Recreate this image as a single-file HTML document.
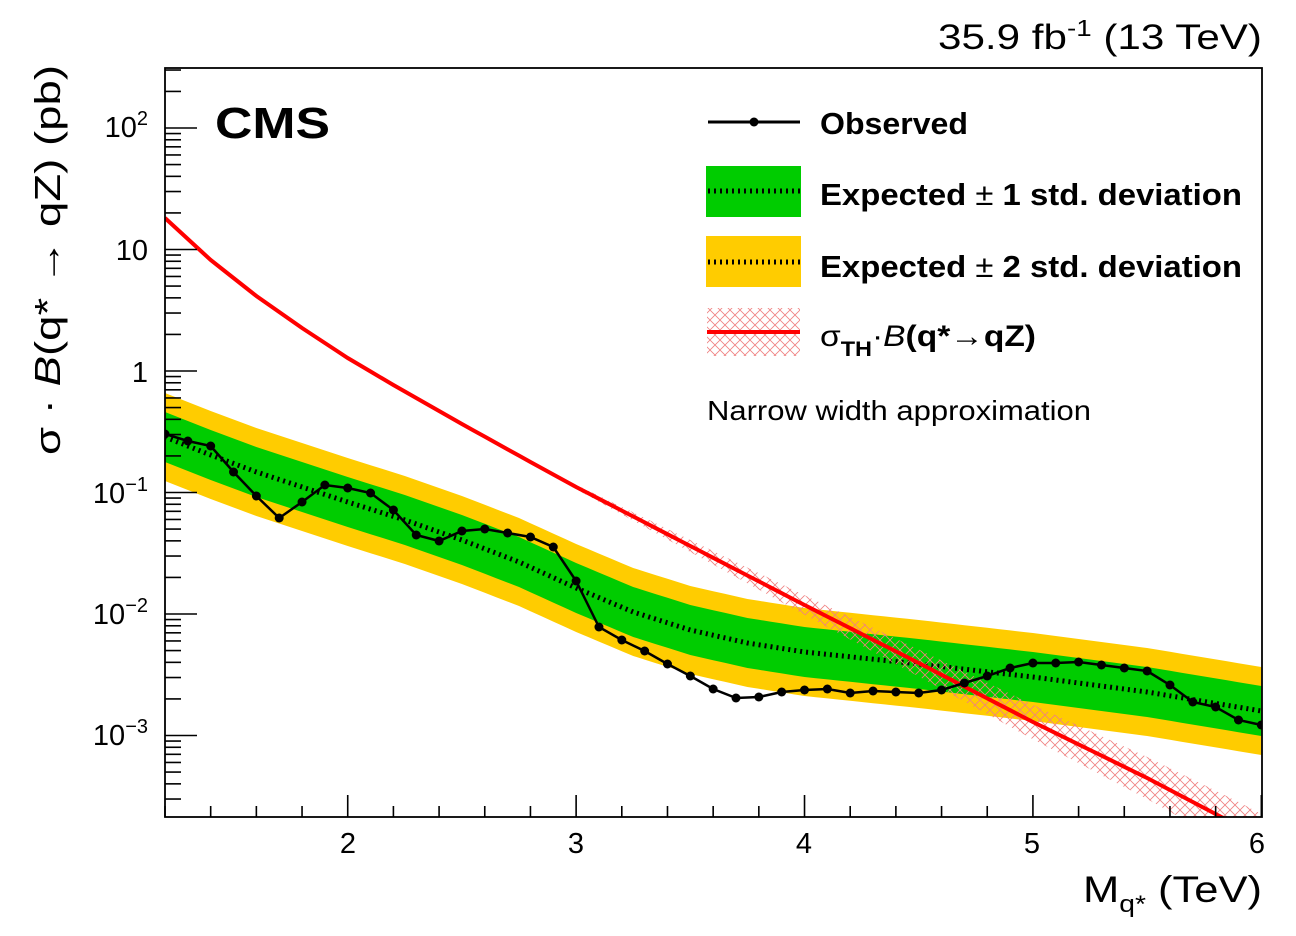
<!DOCTYPE html>
<html><head><meta charset="utf-8"><style>
html,body{margin:0;padding:0;background:#fff;}
svg text{font-family:"Liberation Sans",sans-serif;}
</style></head><body>
<svg id="s" width="1296" height="931" xmlns="http://www.w3.org/2000/svg">
<defs>
<pattern id="hx" width="10" height="10" patternUnits="userSpaceOnUse">
<path d="M0,0L10,10M10,0L0,10" stroke="#f08080" stroke-width="0.8" fill="none"/>
</pattern>
<clipPath id="cp"><rect x="165" y="68" width="1097" height="749"/></clipPath>
</defs>
<g id="plot" clip-path="url(#cp)"></g>
<rect x="165" y="68" width="1097" height="749" fill="none" stroke="#000" stroke-width="1.8"/>
<g id="ticks" stroke="#000" stroke-width="1.6"></g>
<g font-size="29" text-anchor="middle">
<text x="348" y="853">2</text><text x="576" y="853">3</text><text x="804" y="853">4</text><text x="1032" y="853">5</text><text x="1257" y="853">6</text>
</g>
<g font-size="29" text-anchor="end">
<text x="148" y="137">10<tspan dy="-12" font-size="20">2</tspan></text>
<text x="148" y="260">10</text>
<text x="148" y="382">1</text>
<text x="148" y="503">10<tspan dy="-12" font-size="20">−1</tspan></text>
<text x="148" y="624">10<tspan dy="-12" font-size="20">−2</tspan></text>
<text x="148" y="745">10<tspan dy="-12" font-size="20">−3</tspan></text>
</g>
<text x="938" y="49" font-size="35" textLength="324" lengthAdjust="spacingAndGlyphs">35.9 fb<tspan dy="-13" font-size="23">-1</tspan><tspan dy="13"> (13 TeV)</tspan></text>
<text x="1083" y="902" font-size="37" textLength="179" lengthAdjust="spacingAndGlyphs">M<tspan dy="10" font-size="24">q*</tspan><tspan dy="-10"> (TeV)</tspan></text>
<text transform="translate(60,455) rotate(-90)" font-size="36" textLength="390" lengthAdjust="spacingAndGlyphs">σ · <tspan font-style="italic">B</tspan>(q* → qZ) (pb)</text>
<text x="215" y="138" font-size="44" font-weight="bold" textLength="115" lengthAdjust="spacingAndGlyphs">CMS</text>
<g>
<line x1="708" y1="122" x2="800" y2="122" stroke="#000" stroke-width="3"/>
<circle cx="754" cy="122" r="4.5"/>
<text x="820" y="134" font-size="31" font-weight="bold" textLength="148" lengthAdjust="spacingAndGlyphs">Observed</text>
<rect x="706" y="166" width="95" height="51" fill="#00cc00"/>
<line x1="708" y1="191" x2="800" y2="191" stroke="#000" stroke-width="5" stroke-dasharray="2,4"/>
<text x="820" y="205" font-size="31" font-weight="bold" textLength="422" lengthAdjust="spacingAndGlyphs">Expected <tspan font-weight="normal">±</tspan> 1 std. deviation</text>
<rect x="706" y="236" width="95" height="51" fill="#ffcc00"/>
<line x1="708" y1="262" x2="800" y2="262" stroke="#000" stroke-width="5" stroke-dasharray="2,4"/>
<text x="820" y="277" font-size="31" font-weight="bold" textLength="422" lengthAdjust="spacingAndGlyphs">Expected <tspan font-weight="normal">±</tspan> 2 std. deviation</text>
<rect x="707" y="308" width="93" height="48" fill="url(#hx)"/>
<line x1="707" y1="332" x2="800" y2="332" stroke="#ff0000" stroke-width="4"/>
<text x="820" y="346" font-size="30" textLength="216" lengthAdjust="spacingAndGlyphs">σ<tspan dy="10" font-size="21" font-weight="bold">TH</tspan><tspan dy="-10">·</tspan><tspan font-style="italic">B</tspan><tspan font-weight="bold">(q*→qZ)</tspan></text>
<text x="707" y="420" font-size="28" textLength="384" lengthAdjust="spacingAndGlyphs">Narrow width approximation</text>
</g>
</svg>
<script>
const NS="http://www.w3.org/2000/svg";
const X=v=>165+(v-1.2)*228.4;
function interp(pts,x){for(let i=0;i<pts.length-1;i++){if(x<=pts[i+1][0]+1e-9){const t=(x-pts[i][0])/(pts[i+1][0]-pts[i][0]);return pts[i][1]+t*(pts[i+1][1]-pts[i][1]);}}return pts[pts.length-1][1];}
function el(t,a,p){const e=document.createElementNS(NS,t);for(const k in a)e.setAttribute(k,a[k]);p.appendChild(e);return e;}
const plot=document.getElementById('plot');
const med=[[1.2,437],[1.4,455],[1.6,472],[1.8,487],[2.0,502],[2.25,520],[2.5,540],[2.75,562],[3.0,588],[3.25,612],[3.5,630],[3.75,643],[4.0,652],[4.5,664],[5.0,677],[5.5,692],[6.0,711]];
const xs=[];for(let i=0;i<=48;i++)xs.push(1.2+i*0.1);
const fx=[];for(let v=1.2;v<=6.001;v+=0.05)fx.push(v);
function band(h,col){let up=fx.map(x=>X(x)+','+(interp(med,x)-h)),dn=fx.slice().reverse().map(x=>X(x)+','+(interp(med,x)+h));el('polygon',{points:up.concat(dn).join(' '),fill:col},plot);}
band(44,'#ffcc00');band(25,'#00cc00');
el('polyline',{points:fx.map(x=>X(x)+','+interp(med,x)).join(' '),fill:'none',stroke:'#000','stroke-width':5,'stroke-dasharray':'2,4'},plot);
// theory
const th=[[1.2,218],[1.4,260],[1.6,296],[1.8,328],[2.0,358],[2.2,385],[2.5,424],[2.8,462],[3.0,487],[3.5,546],[4.0,605],[4.5,663],[5.0,722],[5.5,778],[6.0,838]];
const tx=[];for(let v=1.2;v<=6.001;v+=0.05)tx.push(v);
const hw=v=>v<2.7?0:Math.min(24,(v-2.7)*7.5);
let up=tx.map(v=>X(v)+','+(interp(th,v)-hw(v))),dn=tx.slice().reverse().map(v=>X(v)+','+(interp(th,v)+hw(v)));
el('polygon',{points:up.concat(dn).join(' '),fill:'url(#hx)'},plot);
el('polyline',{points:tx.map(v=>X(v)+','+interp(th,v)).join(' '),fill:'none',stroke:'#ff0000','stroke-width':4},plot);
// observed
const obs=[434,441,446,472,496,518,502,485,488,493,510,535,541,531,529,533,537,547,581,627,640,651,664,676,689,698,697,692,690,689,693,691,692,693,690,683,676,668,663,663,662,665,668,671,685,702,707,720,725];
el('polyline',{points:xs.map((x,i)=>X(x)+','+obs[i]).join(' '),fill:'none',stroke:'#000','stroke-width':2.5},plot);
xs.forEach((x,i)=>el('circle',{cx:X(x),cy:obs[i],r:4.5,fill:'#000'},plot));
// ticks
const tk=document.getElementById('ticks');
for(let i=0;i<=24;i++){const v=1.2+i*0.2;const x=X(v);const maj=Math.abs(v-Math.round(v))<1e-6;const L=maj?22:11;
el('line',{x1:x,y1:817,x2:x,y2:817-L},tk);}
for(let n=-4;n<=2;n++){const y0=371-121.5*n;for(let k=1;k<=9;k++){const y=y0-121.5*Math.log10(k);if(y<68||y>817)continue;const L=k==1?32:16;
el('line',{x1:165,y1:y,x2:165+L,y2:y},tk);}}
</script>
</body></html>
